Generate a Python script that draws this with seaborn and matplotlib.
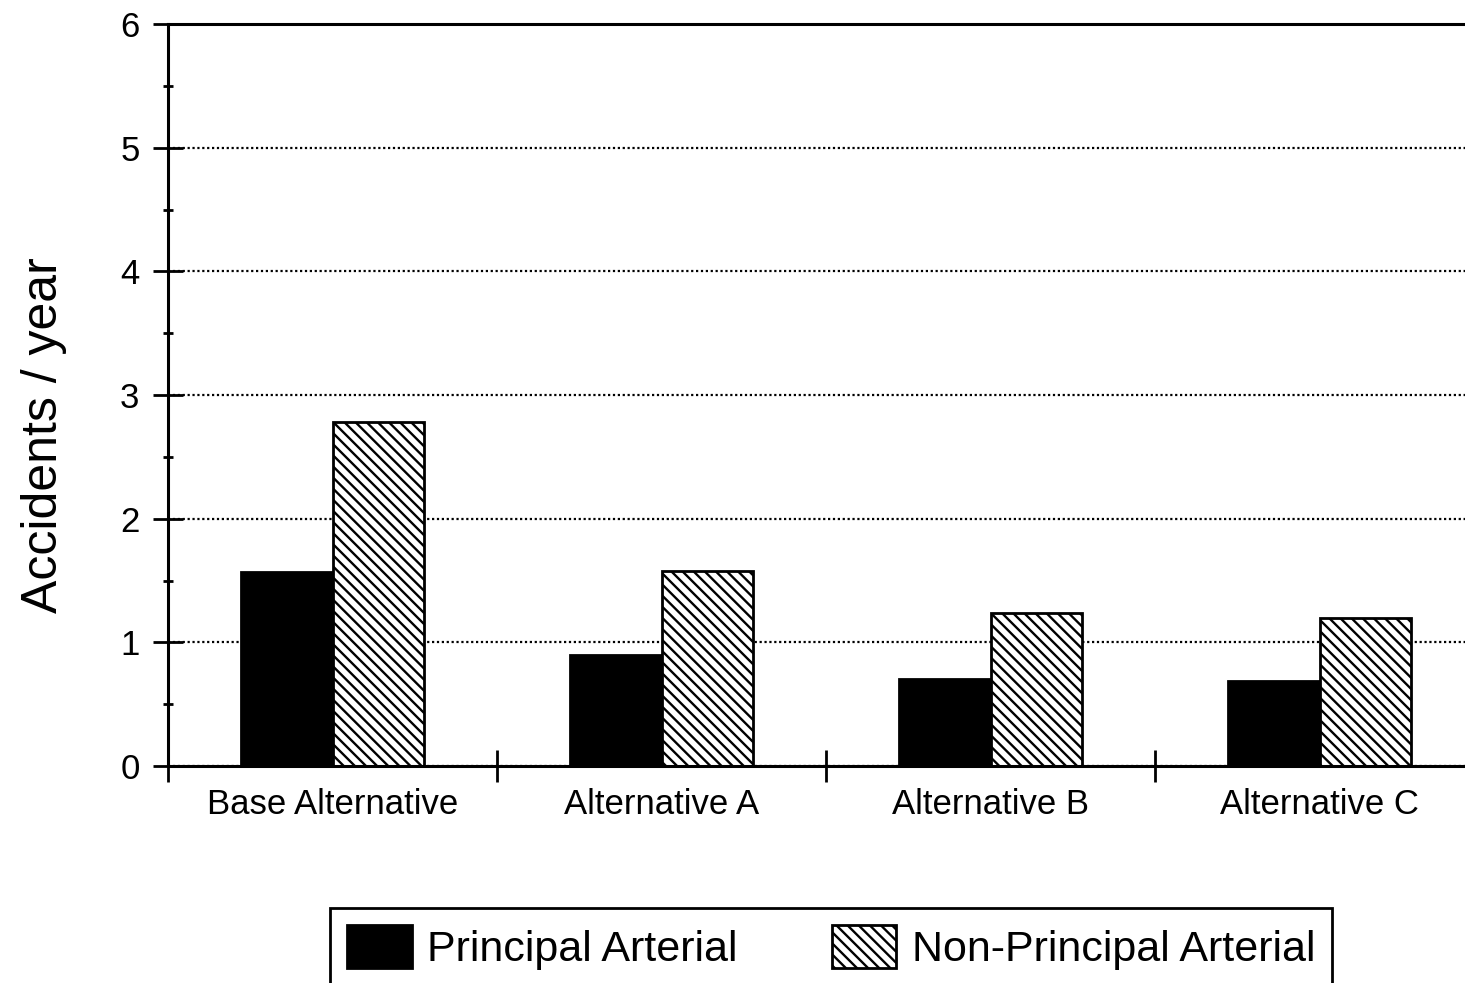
import pandas as pd
import matplotlib
matplotlib.use('Agg')
import matplotlib.pyplot as plt
import seaborn as sns
from matplotlib.ticker import MultipleLocator, FixedLocator, NullFormatter

categories = ['Base Alternative', 'Alternative A', 'Alternative B', 'Alternative C']
principal = [1.57, 0.90, 0.70, 0.69]
non_principal = [2.78, 1.58, 1.24, 1.20]
series_names = ['Principal Arterial', 'Non-Principal Arterial']

df = pd.DataFrame({
    'alt': categories * 2,
    'acc': principal + non_principal,
    'road': [series_names[0]] * 4 + [series_names[1]] * 4,
})

sns.set_style('ticks')
plt.rcParams['font.family'] = ['Liberation Sans', 'DejaVu Sans']
plt.rcParams['text.color'] = 'black'
plt.rcParams['xtick.color'] = 'black'
plt.rcParams['ytick.color'] = 'black'
plt.rcParams['axes.labelcolor'] = 'black'
plt.rcParams['hatch.linewidth'] = 1.7
plt.rcParams['hatch.color'] = 'black'

fig = plt.figure(figsize=(14.65, 9.83), dpi=100)
ax = fig.add_axes([168 / 1465, 1 - 766 / 983, 1316 / 1465, 742 / 983])

sns.barplot(data=df, x='alt', y='acc', hue='road', palette=['black', 'white'],
            saturation=1, width=0.556, edgecolor='black', linewidth=2,
            legend=False, ax=ax)

for bar in ax.containers[1]:
    bar.set_hatch('\\\\\\')

ax.set_xlim(-0.5, 3.5)
ax.set_ylim(0, 6)

# category separators as major ticks, names as minor ticks
ax.xaxis.set_major_locator(FixedLocator([-0.5, 0.5, 1.5, 2.5, 3.5]))
ax.xaxis.set_major_formatter(NullFormatter())
ax.set_xticks([0, 1, 2, 3], categories, minor=True)
ax.tick_params(axis='x', which='minor', length=0, pad=16, labelsize=25)
ax.tick_params(axis='x', which='major', direction='inout', length=23, width=2)

ax.yaxis.set_major_locator(MultipleLocator(1))
ax.yaxis.set_minor_locator(MultipleLocator(0.5))
ax.tick_params(axis='y', which='major', direction='inout', length=21, width=2,
               labelsize=25, pad=10)
ax.tick_params(axis='y', which='minor', direction='inout', length=7, width=2)

ax.grid(axis='y', which='major', linestyle=(0, (1, 1.2)), color='black', linewidth=1.6)
ax.set_axisbelow(True)

for s in ax.spines.values():
    s.set_linewidth(2.2)
    s.set_color('black')

ax.set_xlabel('')
ax.set_ylabel('Accidents / year', fontsize=36)
ax.yaxis.set_label_coords(-0.077, 0.446)

leg = fig.legend(handles=[ax.containers[0], ax.containers[1]], labels=series_names,
                 loc='upper center', bbox_to_anchor=(831 / 1465, 1 - 908 / 983),
                 borderaxespad=0, ncol=2, fontsize=31, frameon=True, fancybox=False,
                 edgecolor='black', handlelength=1.5, handleheight=1.15,
                 handletextpad=0.35, columnspacing=2.2, borderpad=0.4, framealpha=1)
leg.get_frame().set_linewidth(2)

fig.savefig('out.png', dpi=100)
